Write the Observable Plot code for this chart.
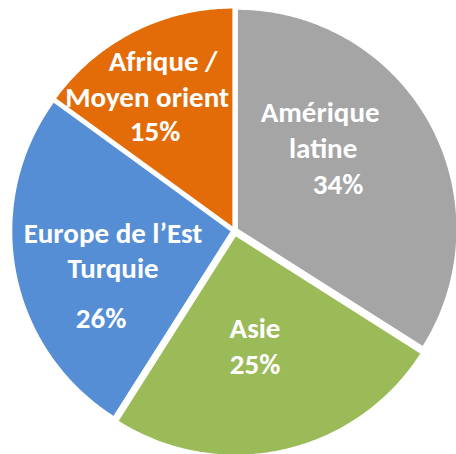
<!DOCTYPE html>
<html>
<head>
<meta charset="utf-8">
<script src="https://cdn.jsdelivr.net/npm/d3@7"></script>
<script src="https://cdn.jsdelivr.net/npm/@observablehq/plot@0.6"></script>
<style>
  html, body { margin: 0; padding: 0; background: #fff; }
  svg { display: block; }
</style>
</head>
<body>
<div id="chart"></div>
<script>
// ---- data ----
const categories = ["Amérique latine", "Asie", "Europe de l’Est Turquie", "Afrique / Moyen orient"];
const values = [34, 25, 26, 15];
const labelLines = [
  ["Amérique", "latine", "34%"],
  ["Asie", "25%"],
  ["Europe de l’Est", "Turquie", "26%"],
  ["Afrique /", "Moyen orient", "15%"]
];
// ---- styles / layout ----
const colors = ["#A5A5A5", "#9BBB59", "#558ED5", "#E36C09"];
const W = 456, H = 454, cx = 234, cy = 230, R = 220;
const explode = [3, 5, 3, 3];
// per-line label offsets from the slice centroid (at 0.6 R)
const labelOffsets = [
  [[-29, -55], [-26, -19], [-11, 17]],
  [[-8, -29], [-8, 7]],
  [[7, -21], [7, 14], [-5, 64]],
  [[-12, -52], [-28, -16], [-20, 18]]
];

const arcs = d3.pie().sort(null).value(d => d)(values);
const polys = [];
const texts = [];
arcs.forEach((a, i) => {
  const mid = (a.startAngle + a.endAngle) / 2;
  const ox = explode[i] * Math.sin(mid), oy = -explode[i] * Math.cos(mid);
  polys.push({cat: categories[i], x: ox, y: oy});
  const n = Math.max(2, Math.ceil((a.endAngle - a.startAngle) / (Math.PI / 360)));
  for (let k = 0; k <= n; k++) {
    const t = a.startAngle + (a.endAngle - a.startAngle) * k / n;
    polys.push({cat: categories[i], x: ox + R * Math.sin(t), y: oy - R * Math.cos(t)});
  }
  const lx = 0.6 * 218 * Math.sin(mid), ly = -0.6 * 218 * Math.cos(mid);
  labelLines[i].forEach((line, j) => {
    texts.push({text: line, x: lx + labelOffsets[i][j][0], y: ly + labelOffsets[i][j][1]});
  });
});

const chart = Plot.plot({
  width: W,
  height: H,
  margin: 0,
  x: {domain: [-cx, W - cx], range: [0, W], axis: null},
  y: {domain: [-cy, H - cy], range: [0, H], axis: null},
  color: {domain: categories, range: colors},
  style: {background: "#fff"},
  marks: [
    Plot.line(polys, {x: "x", y: "y", z: "cat", fill: "cat", stroke: "white", strokeWidth: 1.5, curve: "linear-closed"}),
    Plot.text(texts, {
      x: "x", y: "y", text: "text",
      fill: "white", fontWeight: "bold", fontSize: 29,
      fontFamily: "Calibri, Carlito, Lato, sans-serif",
      textAnchor: "middle", lineAnchor: "middle"
    })
  ]
});
document.getElementById("chart").appendChild(chart);
</script>
</body>
</html>
